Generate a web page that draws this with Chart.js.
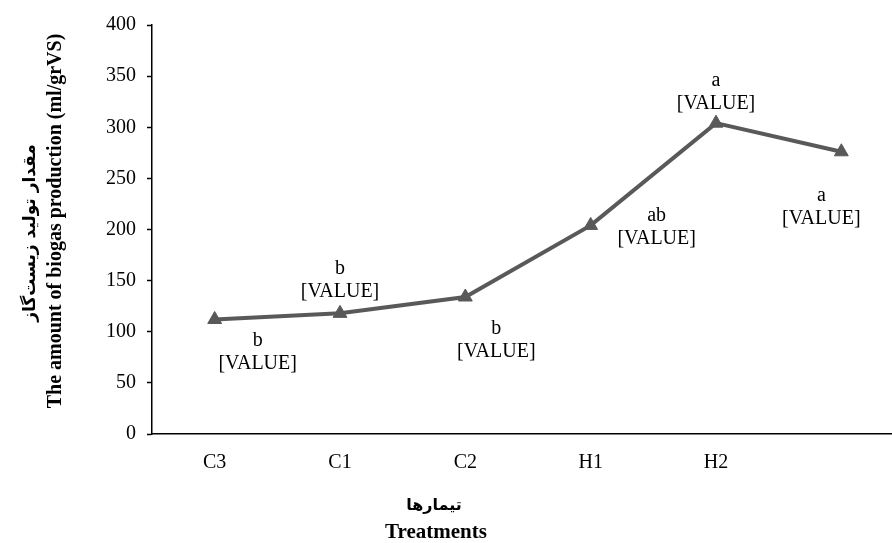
<!DOCTYPE html>
<html>
<head>
<meta charset="utf-8">
<script src="https://cdn.jsdelivr.net/npm/chart.js@4.4.0/dist/chart.umd.min.js"></script>
<style>
html,body{margin:0;padding:0;background:#fff;overflow:hidden;width:892px;height:543px;}
#wrap{position:absolute;left:0;top:0;width:913px;height:543px;}
</style>
</head>
<body>
<div id="wrap"><canvas id="c" width="913" height="543"></canvas></div>
<script>
const categories = ['C3', 'C1', 'C2', 'H1', 'H2', ''];
const biogas = [112, 118, 134, 204, 304, 276];
const significance = ['b', 'b', 'b', 'ab', 'a', 'a'];
const valueText = '[VALUE]';
const yTicks = [0, 50, 100, 150, 200, 250, 300, 350, 400];
const yTitleEn = 'The amount of biogas production (ml/grVS)';
const yTitleFa = 'مقدار تولید زیست‌گاز';
const xTitleEn = 'Treatments';
const xTitleFa = 'تیمارها';

// label placement offsets (style, not data)
const labelOffsets = [[43, 21], [0, -45], [31, 32], [66, -10], [0, -42], [-20, 44]];

const SERIF = '"Liberation Serif", "Times New Roman", serif';
const FA = '"DejaVu Sans", sans-serif';

const labelPlugin = {
  id: 'sigLabels',
  afterDatasetsDraw(chart) {
    const ctx = chart.ctx;
    const meta = chart.getDatasetMeta(0);
    ctx.save();
    ctx.fillStyle = '#000';
    ctx.textAlign = 'center';
    ctx.textBaseline = 'middle';
    ctx.font = '20px ' + SERIF;
    meta.data.forEach((pt, i) => {
      const [dx, dy] = labelOffsets[i];
      ctx.fillText(significance[i], pt.x + dx, pt.y + dy);
      ctx.fillText(valueText, pt.x + dx, pt.y + dy + 23);
    });
    ctx.restore();
  }
};

const titlePlugin = {
  id: 'axisTitles',
  afterDraw(chart) {
    const ctx = chart.ctx;
    ctx.save();
    ctx.fillStyle = '#000';
    ctx.textAlign = 'center';
    ctx.textBaseline = 'middle';
    ctx.save();
    ctx.translate(56, 221);
    ctx.rotate(-Math.PI / 2);
    ctx.font = 'bold 20px ' + SERIF;
    ctx.fillText(yTitleEn, 0, 0);
    ctx.restore();
    ctx.save();
    ctx.translate(31, 233);
    ctx.rotate(-Math.PI / 2);
    ctx.font = 'bold 17px ' + FA;
    ctx.direction = 'rtl';
    ctx.fillText(yTitleFa, 0, 0);
    ctx.restore();
    ctx.font = 'bold 16px ' + FA;
    ctx.direction = 'rtl';
    ctx.fillText(xTitleFa, 434, 506);
    ctx.direction = 'ltr';
    ctx.font = 'bold 21px ' + SERIF;
    ctx.fillText(xTitleEn, 436, 533);
    ctx.restore();
  }
};

new Chart(document.getElementById('c'), {
  type: 'line',
  data: {
    labels: categories,
    datasets: [{
      data: biogas,
      borderColor: '#595959',
      backgroundColor: '#595959',
      borderWidth: 4,
      pointStyle: 'triangle',
      pointRadius: 8,
      pointHoverRadius: 8,
      pointBackgroundColor: '#595959',
      pointBorderColor: '#595959',
      pointBorderWidth: 1,
      tension: 0
    }]
  },
  options: {
    responsive: false,
    animation: false,
    events: [],
    layout: { padding: { left: 0, right: 2, top: 25, bottom: 0 } },
    plugins: { legend: { display: false }, tooltip: { enabled: false } },
    scales: {
      x: {
        offset: true,
        grid: { display: true, drawOnChartArea: false, drawTicks: false },
        border: { color: '#000', width: 1.5 },
        ticks: { color: '#000', font: { family: SERIF, size: 20 }, padding: 17, maxRotation: 0 },
        afterFit(scale) { scale.height = 109; }
      },
      y: {
        min: 0, max: 400,
        afterBuildTicks(scale) { scale.ticks = yTicks.map(v => ({ value: v })); },
        grid: { drawOnChartArea: false, drawTicks: true, tickLength: 5, color: '#000', tickWidth: 1.5 },
        border: { color: '#000', width: 1.5 },
        ticks: { color: '#000', font: { family: SERIF, size: 20 }, padding: 11 },
        afterFit(scale) { scale.width = 152; }
      }
    }
  },
  plugins: [labelPlugin, titlePlugin]
});
</script>
</body>
</html>
